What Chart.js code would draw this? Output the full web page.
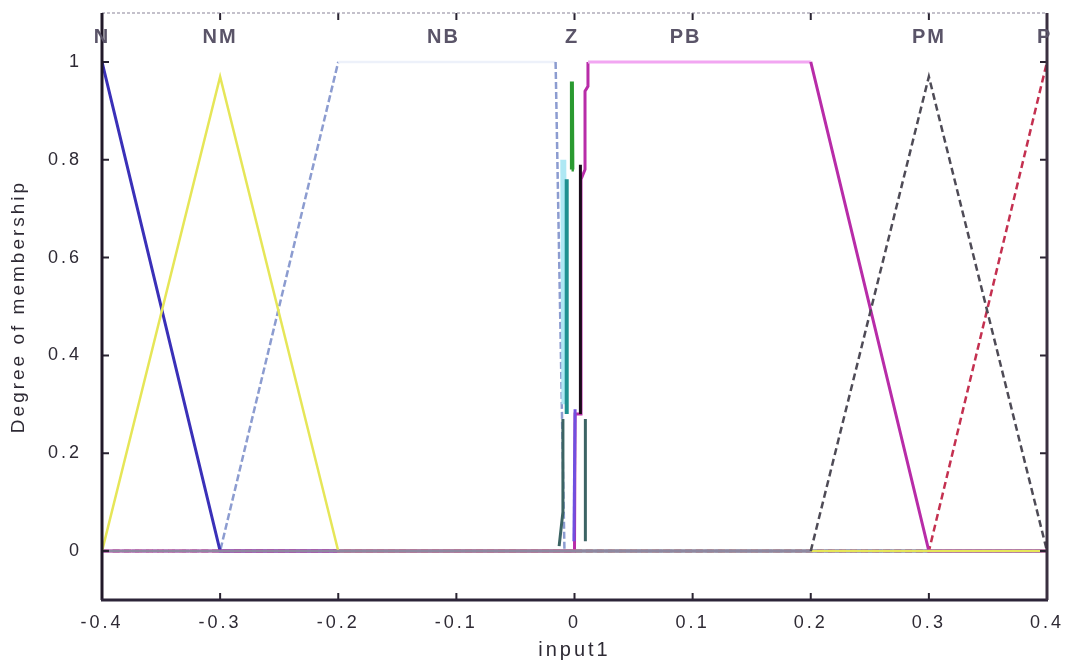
<!DOCTYPE html>
<html>
<head>
<meta charset="utf-8">
<script src="https://cdn.jsdelivr.net/npm/chart.js@4/dist/chart.umd.min.js"></script>
<style>
  html, body { margin: 0; padding: 0; background: #ffffff; }
  #wrap { width: 1067px; height: 666px; position: relative; }
</style>
</head>
<body>
<div id="wrap"><canvas id="c"></canvas></div>
<script>
// ---- tick labels ----
const xTickValues = [-0.4, -0.3, -0.2, -0.1, 0, 0.1, 0.2, 0.3, 0.4];
const xTickLabels = ['-0.4', '-0.3', '-0.2', '-0.1', '0', '0.1', '0.2', '0.3', '0.4'];
const yTickValues = [0, 0.2, 0.4, 0.6, 0.8, 1];
const yTickLabels = ['0', '0.2', '0.4', '0.6', '0.8', '1'];

// ---- membership function names and label positions (input value) ----
const mfNames  = ['N', 'NM', 'NB', 'Z', 'PB', 'PM', 'P'];
const mfLabelX = [-0.4, -0.3, -0.111, -0.002, 0.094, 0.3, 0.398];
const mfLabelY = 1.05;

// ---- membership functions: [input, degree] ----
const mfNB   = [[-0.4, 0], [-0.3, 0], [-0.2, 1], [-0.016, 1], [-0.0085, 0], [0.4, 0]];
const mfN    = [[-0.4, 1], [-0.3, 0], [0.4, 0]];
const mfP    = [[-0.4, 0], [0.3, 0], [0.4, 1]];
const mfPB   = [[-0.4, 0], [0.0, 0], [0.0005, 0.28], [0.0055, 0.28], [0.0055, 0.76], [0.0089, 0.78],
                [0.0089, 0.94], [0.0114, 0.95], [0.0114, 1], [0.2, 1], [0.3, 0], [0.4, 0]];
const mfNM   = [[-0.4, 0], [-0.3, 0.97], [-0.2, 0], [0.4, 0]];
const mfPM   = [[-0.4, 0], [0.2, 0], [0.3, 0.97], [0.4, 0]];
const mfZcy  = [[-0.0095, 0.80], [-0.0085, 0.30]];
const mfZte  = [[-0.0066, 0.76], [-0.0066, 0.28]];
const mfZsl  = [[-0.013, 0.01], [-0.0098, 0.08], [-0.0098, 0.27], [0, null], [0.0092, 0.27], [0.0092, 0.02]];
const mfZ    = [[-0.0025, 0.78], [-0.0022, 0.96], [-0.0018, 0.78]];
const mfZbk  = [[0.005, 0.79], [0.005, 0.28]];
const mfZvi  = [[-0.0005, 0.02], [0.0005, 0.29]];

const toXY = arr => arr.map(p => ({ x: p[0], y: p[1] }));
const flat = (c, v) => c.p0.parsed.y === v && c.p1.parsed.y === v;

// drawing order: first = bottom
const series = [
  { data: mfNB, color: '#8c9cd0', width: 2.5, dash: [7, 3],
    seg: c => flat(c, 1) ? '#edf1fa' : undefined,
    segDash: c => flat(c, 1) ? [] : undefined },
  { data: mfN,  color: '#3a30b8', width: 3 },
  { data: mfP,  color: '#c43050', width: 2.5, dash: [7, 4] },
  { data: mfPB, color: '#b82ca8', width: 3,
    seg: c => flat(c, 1) ? '#f2a6f2' : undefined },
  { data: mfNM, color: '#e6e658', width: 2.5 },
  { data: mfPM, color: '#4e4b56', width: 2.5, dash: [7, 4],
    seg: c => flat(c, 0) ? '#8e88a0' : undefined,
    segDash: c => flat(c, 0) ? [] : undefined },
  { data: mfZcy, color: '#aee8f4', width: 6 },
  { data: mfZte, color: '#1e9090', width: 4 },
  { data: mfZsl, color: '#3c6464', width: 3 },
  { data: mfZ,   color: '#2a9a30', width: 4 },
  { data: mfZbk, color: '#1a0c1a', width: 3 },
  { data: mfZvi, color: '#7050e0', width: 3 }
];

const datasets = series.map((s, i) => ({
  data: toXY(s.data),
  borderColor: s.color,
  borderWidth: s.width,
  borderDash: s.dash || [],
  pointRadius: 0,
  fill: false,
  tension: 0,
  spanGaps: false,
  order: -i,
  segment: {
    borderColor: s.seg ? s.seg : undefined,
    borderDash: s.segDash ? s.segDash : undefined
  }
}));

const boxPlugin = {
  id: 'box',
  beforeDraw(chart) {
    chart.ctx.save();
    chart.ctx.letterSpacing = '3px';
  },
  afterDatasetsDraw(chart) {
    const { ctx, chartArea: a, scales } = chart;
    ctx.save();
    ctx.letterSpacing = '0px';
    // inner ticks
    ctx.strokeStyle = '#2a2432';
    ctx.lineWidth = 2;
    const tl = 7;
    xTickValues.forEach(v => {
      const px = scales.x.getPixelForValue(v);
      ctx.beginPath();
      ctx.moveTo(px, a.bottom); ctx.lineTo(px, a.bottom - tl);
      ctx.moveTo(px, a.top); ctx.lineTo(px, a.top + tl);
      ctx.stroke();
    });
    yTickValues.forEach(v => {
      const py = scales.y.getPixelForValue(v);
      ctx.beginPath();
      ctx.moveTo(a.left, py); ctx.lineTo(a.left + tl, py);
      ctx.moveTo(a.right, py); ctx.lineTo(a.right - tl, py);
      ctx.stroke();
    });
    // box
    ctx.lineWidth = 1.2;
    ctx.strokeStyle = '#8a8498';
    ctx.setLineDash([3, 2]);
    ctx.beginPath(); ctx.moveTo(a.left, a.top); ctx.lineTo(a.right, a.top); ctx.stroke();
    ctx.setLineDash([]);
    ctx.lineWidth = 3;
    ctx.strokeStyle = '#201828';
    ctx.beginPath(); ctx.moveTo(a.left, a.top); ctx.lineTo(a.left, a.bottom); ctx.stroke();
    ctx.strokeStyle = '#2c2438';
    ctx.beginPath(); ctx.moveTo(a.left - 1, a.bottom); ctx.lineTo(a.right + 1, a.bottom); ctx.stroke();
    ctx.strokeStyle = '#3a3040';
    ctx.beginPath(); ctx.moveTo(a.right, a.top); ctx.lineTo(a.right, a.bottom); ctx.stroke();
    // MF names
    ctx.letterSpacing = '2px';
    ctx.font = 'bold 20px "Liberation Sans", Arial, sans-serif';
    ctx.fillStyle = '#5a5468';
    ctx.textAlign = 'center';
    ctx.textBaseline = 'middle';
    mfNames.forEach((n, i) => {
      ctx.fillText(n, scales.x.getPixelForValue(mfLabelX[i]), scales.y.getPixelForValue(mfLabelY));
    });
    ctx.restore();
  },
  afterDraw(chart) {
    chart.ctx.restore();
  }
};

new Chart(document.getElementById('c'), {
  type: 'line',
  data: { datasets },
  plugins: [boxPlugin],
  options: {
    responsive: true,
    maintainAspectRatio: false,
    animation: false,
    events: [],
    layout: { padding: { top: 13, right: 20, left: 0, bottom: 0 } },
    plugins: { legend: { display: false }, tooltip: { enabled: false } },
    scales: {
      x: {
        type: 'linear',
        min: -0.4, max: 0.4,
        grid: { display: false, drawTicks: false },
        border: { display: false },
        afterBuildTicks: s => { s.ticks = xTickValues.map(v => ({ value: v })); },
        afterFit: s => { s.height = 66; s.paddingLeft = 0; s.paddingRight = 0; },
        ticks: {
          padding: 12,
          maxRotation: 0,
          autoSkip: false,
          color: '#2e2a34',
          font: { family: '"Liberation Sans", Arial, sans-serif', size: 18 },
          callback: (v) => { const i = xTickValues.findIndex(t => Math.abs(t - v) < 1e-9); return i >= 0 ? xTickLabels[i] : ''; }
        },
        title: {
          display: true, text: 'input1', color: '#2e2a34',
          font: { family: '"Liberation Sans", Arial, sans-serif', size: 20 },
          padding: { top: 0, bottom: 4 }
        }
      },
      y: {
        type: 'linear',
        min: -0.1, max: 1.1,
        grid: { display: false, drawTicks: false },
        border: { display: false },
        afterBuildTicks: s => { s.ticks = yTickValues.map(v => ({ value: v })); },
        afterFit: s => { s.width = 102; s.paddingTop = 0; s.paddingBottom = 0; },
        ticks: {
          padding: 20,
          autoSkip: false,
          color: '#2e2a34',
          font: { family: '"Liberation Sans", Arial, sans-serif', size: 18 },
          callback: (v) => { const i = yTickValues.findIndex(t => Math.abs(t - v) < 1e-9); return i >= 0 ? yTickLabels[i] : ''; }
        },
        title: {
          display: true, text: 'Degree of membership', color: '#2e2a34',
          font: { family: '"Liberation Sans", Arial, sans-serif', size: 19 },
          padding: { top: 7, bottom: 0 }
        }
      }
    }
  }
});
</script>
</body>
</html>
